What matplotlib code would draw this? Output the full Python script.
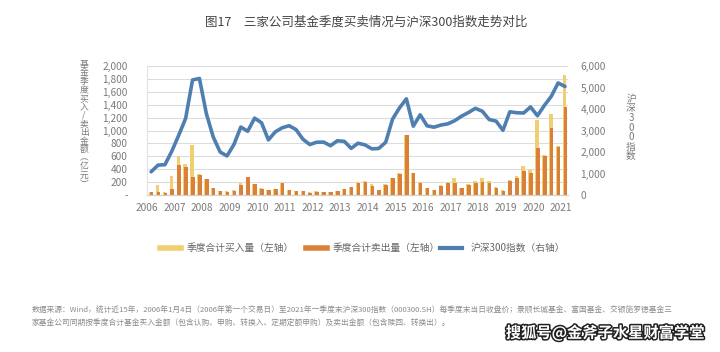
import matplotlib
matplotlib.use("Agg")
import matplotlib.pyplot as plt
import matplotlib.patheffects as pe
from matplotlib.lines import Line2D
import numpy as np

plt.rcParams['font.family'] = ['Noto Sans CJK SC', 'DejaVu Sans']

# quarterly data, 2006Q1 .. 2021Q1
buy = [50, 150, 40, 300, 600, 480, 780, 330, 250, 110, 65, 55, 75, 180, 285, 175, 105, 78, 92, 185,
       85, 65, 65, 40, 55, 50, 50, 65, 92, 125, 207, 222, 170, 80, 165, 262, 335, 935, 340, 195,
       108, 82, 150, 207, 258, 108, 170, 215, 258, 217, 129, 72, 225, 295, 450, 388, 1163, 620, 1251, 760, 1861]
sell = [50, 50, 35, 100, 470, 440, 280, 305, 243, 105, 60, 50, 60, 155, 280, 170, 100, 72, 88, 180,
        80, 62, 62, 36, 52, 47, 47, 62, 88, 119, 181, 207, 145, 75, 160, 258, 330, 930, 336, 191,
        103, 78, 140, 181, 191, 103, 160, 191, 196, 181, 103, 67, 217, 258, 370, 346, 730, 605, 1034, 750, 1360]
hs300 = [1080, 1390, 1410, 2040, 2780, 3560, 5350, 5420, 3790, 2700, 2000, 1817, 2348, 3161, 2965, 3575, 3359, 2564, 2936, 3128,
         3223, 3044, 2597, 2346, 2455, 2461, 2293, 2523, 2495, 2170, 2409, 2331, 2146, 2165, 2451, 3533, 4051, 4473, 3202, 3731,
         3218, 3154, 3253, 3310, 3456, 3666, 3837, 4030, 3899, 3510, 3438, 3010, 3872, 3825, 3814, 4096, 3686, 4163, 4587, 5211, 5048]
years = [str(y) for y in range(2006, 2022)]

C_BUY = '#F0CF70'
C_SELL = '#DB8038'
C_LINE = '#4F7FB0'
GRAY = '#7a7a7a'

fig = plt.figure(figsize=(7.2, 3.52), dpi=100)
ax = fig.add_axes([147/720, 1-195/352, 421/720, 129/352])
ax2 = ax.twinx()

x = np.arange(len(buy))
ax.bar(x - 0.06, buy, width=0.52, color=C_BUY, zorder=2)
ax.bar(x + 0.06, sell, width=0.52, color=C_SELL, zorder=3)
ax2.plot(x, hs300, color=C_LINE, lw=2.6, solid_joinstyle='round', solid_capstyle='round')

ax.set_xlim(-0.58, 60.43)
ax.set_ylim(0, 2000)
ax2.set_ylim(0, 6000)

ax.set_yticks(range(0, 2001, 200))
ax.set_yticklabels(['-'] + [f'{v:,}' for v in range(200, 2001, 200)])
ax2.set_yticks(range(0, 6001, 1000))
ax2.set_yticklabels([f'{v:,}' for v in range(0, 6001, 1000)])
ax.set_xticks([4 * k - 0.6 for k in range(len(years))])
ax.set_xticklabels(years)

ax.grid(axis='y', color='#dcdcdc', lw=0.8, zorder=0)
ax.set_axisbelow(True)
for a in (ax, ax2):
    for s in ('top', 'right', 'left'):
        a.spines[s].set_visible(False)
    a.spines['bottom'].set_color('#d0d0d0')
    a.tick_params(length=0, colors=GRAY, labelsize=7.3)
ax.spines['left'].set_visible(True)
ax.spines['left'].set_color('#e2e2e2')
ax.tick_params(axis='y', pad=14)
ax.tick_params(axis='x', pad=6)
ax2.tick_params(axis='y', pad=9)


def vtext(xpx, ytop, ybot, s, size):
    # stack characters top to bottom, one text per character
    step = (ybot - ytop) / (len(s) - 1)
    for k, ch in enumerate(s):
        fig.text(xpx/720, 1 - (ytop + k*step)/352, ch, ha='center', va='center',
                 fontsize=size, color=GRAY)


vtext(84, 64, 184, '基金季度买入/卖出金额︵亿元︶', 6.3)
vtext(631, 99, 156, '沪深300指数', 7)

fig.text(366/720, 1-22/352, '图17　三家公司基金季度买卖情况与沪深300指数走势对比',
         ha='center', va='center', fontsize=9, color='#444444')

# legend
ly = 1 - 247.5/352
items = [(C_BUY, 160, 181, 187, '季度合计买入量（左轴）'),
         (C_SELL, 306, 327, 333, '季度合计卖出量（左轴）'),
         (C_LINE, 440, 462, 471, '沪深300指数（右轴）')]
for col, x0, x1, tx, lab in items:
    fig.add_artist(Line2D([x0/720, x1/720], [ly, ly], transform=fig.transFigure,
                          color=col, lw=4 if col != C_LINE else 3))
    fig.text(tx/720, ly, lab, ha='left', va='center', fontsize=7, color='#666666')

foot1 = ('数据来源：Wind，统计近15年，2006年1月4日（2006年第一个交易日）至2021年一季度末沪深300指数（000300.SH）'
         '每季度末当日收盘价；景顺长城基金、富国基金、交银施罗德基金三')
foot2 = '家基金公司同期按季度合计基金买入金额（包含认购、申购、转换入、定期定额申购）及卖出金额（包含赎回、转换出）。'
fig.text(32/720, 1-311/352, foot1, ha='left', va='center', fontsize=5.55, color='#8a8a8a')
fig.text(32/720, 1-323/352, foot2, ha='left', va='center', fontsize=5.55, color='#8a8a8a')

fig.text(605/720, 1-333/352, '搜狐号@金斧子水星财富学堂', ha='center', va='center',
         fontsize=11, color='white', fontweight='bold',
         path_effects=[pe.withStroke(linewidth=2.2, foreground='#222222')])

fig.savefig('out.png', dpi=100)
